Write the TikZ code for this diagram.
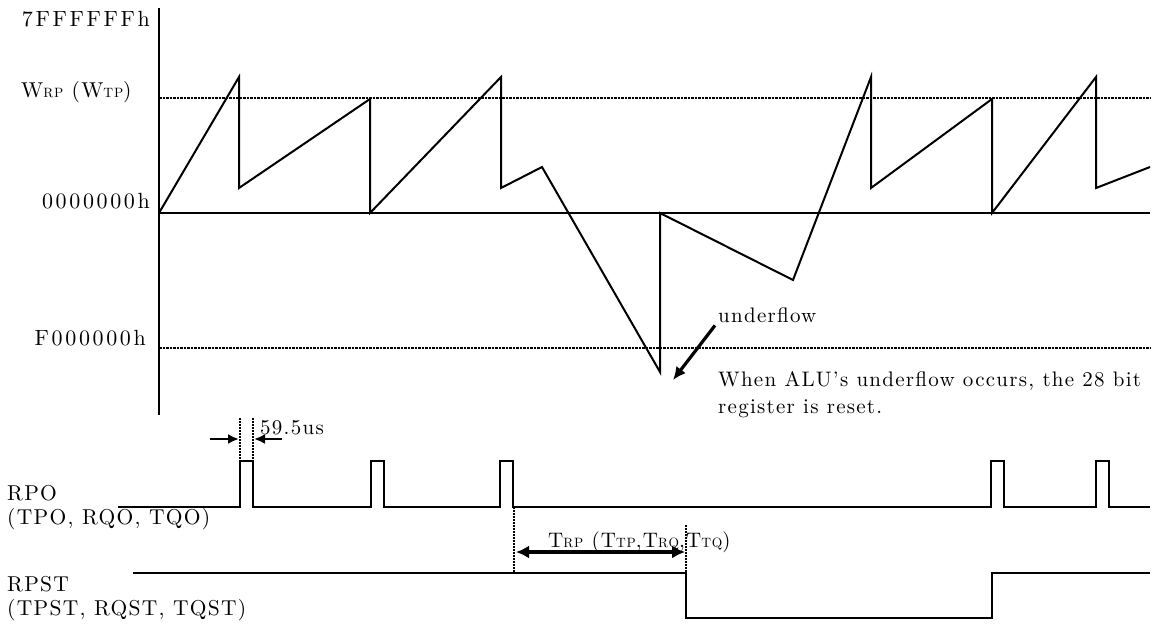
\documentclass[tikz,border=0pt]{standalone}
\usepackage{fontspec}
\setmainfont{lmroman10-regular.otf}[LetterSpace=6]
\usepackage{tikz}
\usetikzlibrary{arrows.meta}

\newcommand{\regsub}[1]{{\fontsize{13.5}{13.5}\selectfont #1}}

\begin{document}
\begin{tikzpicture}[x=1pt,y=-1pt,
		sig/.style={line width=2pt},
		level/.style={line width=2.6pt, dash pattern=on 2.5pt off 1pt},
		tick/.style={line width=2pt, dash pattern=on 2pt off 1pt},
		hexlbl/.style={inner sep=0pt, font=\fontsize{22}{26}\selectfont\addfontfeatures{LetterSpace=12}},
		lbl/.style={inner sep=0pt, font=\fontsize{21.5}{25}\selectfont},
		note/.style={inner sep=0pt, font=\fontsize{21}{25}\selectfont}]
				\useasboundingbox (0,0) rectangle (1154,630);
				\draw[sig] (159,8) -- (159,415);
				\draw[sig] (159,213) -- (1150,213);
				\draw[level] (159,98) -- (1150,98);
				\draw[level] (159,348) -- (1150,348);
				\draw[sig] (159,213) -- (239,77) -- (239,188) -- (370,99) -- (370,213) -- (501,77) -- (501,188) -- (542,167) -- (660,372) -- (660,213) -- (793,280) -- (871,77) -- (871,188) -- (992,99) -- (992,213) -- (1096,77) -- (1096,188) -- (1150,167);
				\node[hexlbl, anchor=base east] (full) at (150,26) {7FFFFFFh};
				\node[lbl, anchor=base west] (wrp) at (21,97) {W\regsub{RP} (W\regsub{TP})};
				\node[hexlbl, anchor=base east] (zero) at (150,208) {0000000h};
				\node[hexlbl, anchor=base east] (floor) at (146,345) {F000000h};
				\node[note, anchor=base west] (ufl) at (718,322) {underflow};
				\draw[line width=3.2pt, -{Latex[length=13pt,width=12pt]}] (ufl.south west) ++(-3,3) coordinate (ufltail) -- (673,380);
				\node[note, anchor=base west] (why) at (718,386) {When ALU's underflow occurs, the 28 bit};
				\node[note, anchor=base west] (why2) at (718,413) {register is reset.};
				\draw[sig] (118,507) foreach \t in {240,371,500,991,1096} { -- (\t,507) -- (\t,461) -- (\t+13,461) -- (\t+13,507) } -- (1150,507);
				\draw[tick] (240,418) -- (240,461);
				\draw[tick] (253,418) -- (253,461);
				\draw[line width=2.6pt, -{Latex[length=11pt,width=10pt]}] (210,439) -- (239,439);
				\draw[line width=2.6pt, -{Latex[length=11pt,width=10pt]}] (282,439) -- (254,439);
				\node[note, anchor=base west] (width) at (260,434) {59.5us};
				\node[lbl, anchor=base west] (rpo) at (7,500) {RPO};
				\node[lbl, anchor=base west] (rpo2) at (7,524) {(TPO, RQO, TQO)};
				\draw[sig] (133,573) -- (686,573) -- (686,618) -- (992,618) -- (992,573) -- (1150,573);
				\draw[tick] (514,507) -- (514,573);
				\draw[tick] (686,525) -- (686,573);
				\draw[line width=4pt, {Latex[length=13pt,width=13pt]}-{Latex[length=13pt,width=13pt]}] (516,552) -- (685,552);
				\node[note, anchor=base west] (trp) at (548,547) {T\regsub{RP} (T\regsub{TP},T\regsub{RQ},T\regsub{TQ})};
				\node[lbl, anchor=base west] (rpst) at (7,591) {RPST};
				\node[lbl, anchor=base west] (rpst2) at (7,615) {(TPST, RQST, TQST)};
			\end{tikzpicture}
\end{document}
